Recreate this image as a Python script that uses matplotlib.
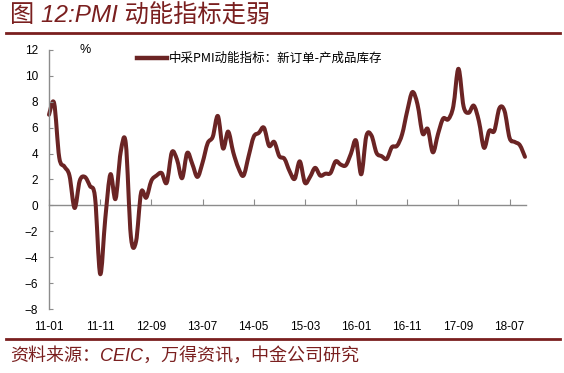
import matplotlib
matplotlib.use('Agg')
import matplotlib.pyplot as plt
from matplotlib.lines import Line2D
from matplotlib.path import Path
from matplotlib.patches import PathPatch

# monthly values, 2011-01 .. 2018-10
months = ['11-01', '11-11', '12-09', '13-07', '14-05',
          '15-03', '16-01', '16-11', '17-09', '18-07']
tick_pos = [0, 10, 20, 30, 40, 50, 60, 70, 80, 90]

momentum = [7.0, 7.9, 3.7, 3.0, 2.3, -0.2, 1.9, 2.2, 1.5, 0.6,
            -5.3, -1.0, 2.4, 0.5, 4.1, 4.8, -2.4, -2.8, 1.0, 0.6,
            1.9, 2.3, 2.5, 1.75, 4.1, 3.55, 2.1, 4.05, 3.2, 2.2,
            3.3, 4.8, 5.3, 6.9, 4.4, 5.7, 4.1, 2.9, 2.3, 3.8,
            5.3, 5.6, 6.0, 4.6, 4.9, 3.8, 3.6, 2.65, 2.05, 3.4,
            1.75, 2.2, 2.9, 2.3, 2.45, 2.5, 3.4, 3.15, 3.1, 4.0,
            5.0, 2.4, 5.35, 5.4, 4.05, 3.8, 3.6, 4.5, 4.6, 5.5,
            7.3, 8.75, 7.8, 5.55, 5.9, 4.1, 5.5, 6.7, 6.65, 7.65,
            10.55, 7.65, 7.15, 7.7, 6.5, 4.45, 5.75, 5.75, 7.5, 7.3,
            5.2, 4.9, 4.65, 3.75]

legend_label = '中采PMI动能指标：新订单-产成品库存'
title = '图 12:PMI 动能指标走弱'
source = '资料来源：CEIC，万得资讯，中金公司研究'

red = '#7a1f1f'
line_col = '#6b2424'
grey = '#8c8c8c'
cjk = ['Liberation Sans', 'Noto Sans CJK SC', 'DejaVu Sans']


def smooth_path(xs, ys):
    # excel-style smoothed line: cubic bezier through every point
    n = len(xs)
    verts = [(xs[0], ys[0])]
    codes = [Path.MOVETO]
    for i in range(n - 1):
        a = max(i - 1, 0)
        b = min(i + 2, n - 1)
        c1 = (xs[i] + (xs[i + 1] - xs[a]) / 6, ys[i] + (ys[i + 1] - ys[a]) / 6)
        c2 = (xs[i + 1] - (xs[b] - xs[i]) / 6, ys[i + 1] - (ys[b] - ys[i]) / 6)
        verts += [c1, c2, (xs[i + 1], ys[i + 1])]
        codes += [Path.CURVE4] * 3
    return Path(verts, codes)


fig = plt.figure(figsize=(5.64, 3.73), dpi=100)
ax = fig.add_axes([49 / 564, 1 - 309 / 373, 477 / 564, 259 / 373])

x = list(range(len(momentum)))
ax.add_patch(PathPatch(smooth_path(x, momentum), facecolor='none',
                       edgecolor=line_col, lw=2.9, joinstyle='round',
                       capstyle='round', clip_on=False))

ax.set_xlim(0, 93.2)
ax.set_ylim(-8, 12)
ax.set_yticks(range(-8, 13, 2))
ax.set_xticks(tick_pos)
ax.set_xticklabels(months)

for s in ['top', 'right', 'bottom']:
    ax.spines[s].set_visible(False)
ax.spines['left'].set_color(grey)
ax.spines['left'].set_linewidth(1)
ax.tick_params(axis='y', direction='in', length=3, color=grey, pad=8,
               labelsize=8.5)
ax.tick_params(axis='x', length=0, pad=9, labelsize=8.5)
for lab in ax.get_xticklabels() + ax.get_yticklabels():
    lab.set_fontfamily('Liberation Sans')

# zero line with the category ticks
zero = ax.secondary_xaxis(8 / 20)
zero.set_xticks(tick_pos)
zero.set_xticklabels([])
zero.spines['bottom'].set_color(grey)
zero.spines['bottom'].set_linewidth(1)
zero.tick_params(direction='in', length=4, color=grey)

ax.text(36 / 477, 1.0, '%', transform=ax.transAxes, fontsize=9,
        family='Liberation Sans', va='center', ha='center')

h = Line2D([], [], color=line_col, lw=3.2)
ax.legend([h], [legend_label], loc='upper left', bbox_to_anchor=(0.16, 1.035),
          frameon=False, handlelength=2.4, handletextpad=0.2,
          prop={'family': ['Noto Sans CJK SC'], 'size': 9})

# header / footer
fig.text(10 / 564, 1 - 16 / 373, title, color=red, fontsize=17.5, style='italic',
         family=cjk, va='center', ha='left')
fig.add_artist(Line2D([6 / 564, 560 / 564], [1 - 33 / 373] * 2, color=red, lw=2))
fig.add_artist(Line2D([6 / 564, 560 / 564], [1 - 339 / 373] * 2, color=red, lw=2))
fig.text(10 / 564, 1 - 356 / 373, source, color=red, fontsize=13, style='italic',
         family=cjk, va='center', ha='left')

fig.savefig('out.png', dpi=100)
